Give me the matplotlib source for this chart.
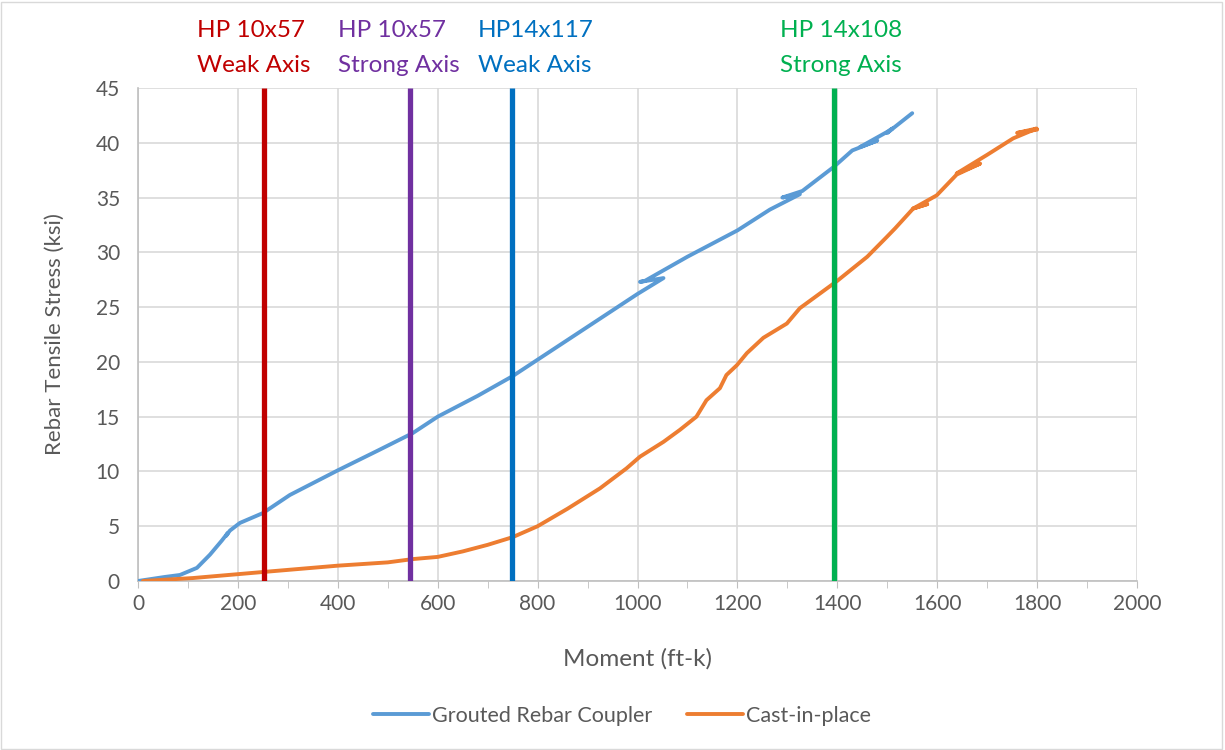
import matplotlib
matplotlib.use("Agg")
import matplotlib.pyplot as plt
from matplotlib.patches import Rectangle

# ---------------- data ----------------
coupler_x = [0, 54, 84, 118, 144, 168, 180, 176, 184, 204, 250, 304, 400, 480, 550, 600,
             680, 750, 800, 900, 1000, 1052, 1005, 1015, 1100, 1200, 1265, 1325, 1290,
             1330, 1393, 1430, 1480, 1445, 1500, 1510, 1500, 1550]
coupler_y = [0, 0.37, 0.55, 1.2, 2.4, 3.7, 4.4, 4.1, 4.6, 5.3, 6.2, 7.85, 10.1, 11.9, 13.5, 15.0,
             16.9, 18.7, 20.2, 23.2, 26.2, 27.65, 27.3, 27.4, 29.6, 32.0, 33.9, 35.3, 35.0,
             35.6, 37.8, 39.3, 40.2, 39.6, 41.0, 41.3, 40.9, 42.7]

cip_x = [10, 110, 250, 400, 500, 550, 600, 650, 700, 750, 800, 860, 925, 978, 1005, 1052,
         1085, 1118, 1138, 1165, 1178, 1199, 1219, 1252, 1299, 1325, 1400, 1460, 1499, 1516,
         1552, 1580, 1552, 1599, 1639, 1686, 1639, 1700, 1752, 1799, 1760, 1800]
cip_y = [0, 0.27, 0.82, 1.4, 1.7, 2.0, 2.2, 2.7, 3.3, 4.0, 5.0, 6.6, 8.46, 10.28, 11.35, 12.7,
         13.8, 15.0, 16.5, 17.6, 18.8, 19.7, 20.8, 22.2, 23.5, 24.9, 27.4, 29.6, 31.4, 32.2,
         34.0, 34.4, 34.0, 35.2, 37.1, 38.1, 37.2, 38.9, 40.4, 41.3, 40.9, 41.2]

section_x = [252, 545, 749, 1393]
section_line1 = ["HP 10x57", "HP 10x57", "HP14x117", "HP 14x108"]
section_line2 = ["Weak Axis", "Strong Axis", "Weak Axis", "Strong Axis"]
section_colors = ["#C00000", "#7030A0", "#0070C0", "#00B050"]
label_x = [118, 400, 681, 1285]

series_names = ["Grouted Rebar Coupler", "Cast-in-place"]

# ---------------- plot ----------------
plt.rcParams['font.family'] = ['Lato', 'DejaVu Sans']
fig = plt.figure(figsize=(12.25, 7.5), dpi=100)
ax = fig.add_axes([138/1225, 1-581/750, (1137-138)/1225, (581-88)/750])

grid_c = "#D9D9D9"
text_c = "#595959"

ax.plot(coupler_x, coupler_y, color="#5B9BD5", lw=2.8, solid_capstyle="round",
        solid_joinstyle="round", label=series_names[0], zorder=3)
ax.plot(cip_x, cip_y, color="#ED7D31", lw=2.8, solid_capstyle="round",
        solid_joinstyle="round", label=series_names[1], zorder=3)

for xv, c in zip(section_x, section_colors):
    ax.plot([xv, xv], [0, 45], color=c, lw=3.8, zorder=4, solid_capstyle="butt")

for xv, l1, l2, c in zip(label_x, section_line1, section_line2, section_colors):
    ax.text(xv, 49.65, l1, color=c, fontsize=17.5, ha="left", va="baseline", clip_on=False)
    ax.text(xv, 46.45, l2, color=c, fontsize=17.5, ha="left", va="baseline", clip_on=False)

ax.set_xlim(0, 2000)
ax.set_ylim(0, 45)
ax.set_xticks(range(0, 2001, 200))
ax.set_xticks(range(0, 2001, 100), minor=True)
ax.set_yticks(range(0, 46, 5))
ax.grid(True, color=grid_c, lw=1.2, which="major")
ax.set_axisbelow(True)
for s in ["top", "right"]:
    ax.spines[s].set_visible(False)
ax.spines["left"].set_color("#BFBFBF")
ax.spines["bottom"].set_color("#BFBFBF")
ax.spines["left"].set_linewidth(1.2)
ax.spines["bottom"].set_linewidth(1.2)
ax.tick_params(axis="x", which="both", direction="out", length=5, color="#BFBFBF",
               labelsize=15, labelcolor=text_c, pad=4)
ax.tick_params(axis="y", length=0, labelsize=15, labelcolor=text_c, pad=13)

ax.set_xlabel("Moment (ft-k)", fontsize=17.5, color=text_c, labelpad=25)
ax.set_ylabel("Rebar Tensile Stress (ksi)", fontsize=16, color=text_c, labelpad=22)

leg = fig.legend(loc="center", bbox_to_anchor=(622/1225, 1-716/750), ncol=2,
                 frameon=False, fontsize=15.5, handlelength=2.6, handletextpad=0.15,
                 columnspacing=1.6, labelcolor=text_c)

fig.patches.append(Rectangle((1/1225, 1/750), 1221/1225, 747/750, transform=fig.transFigure,
                             fill=False, edgecolor="#D9D9D9", lw=1))

fig.savefig("out.png", dpi=100)
